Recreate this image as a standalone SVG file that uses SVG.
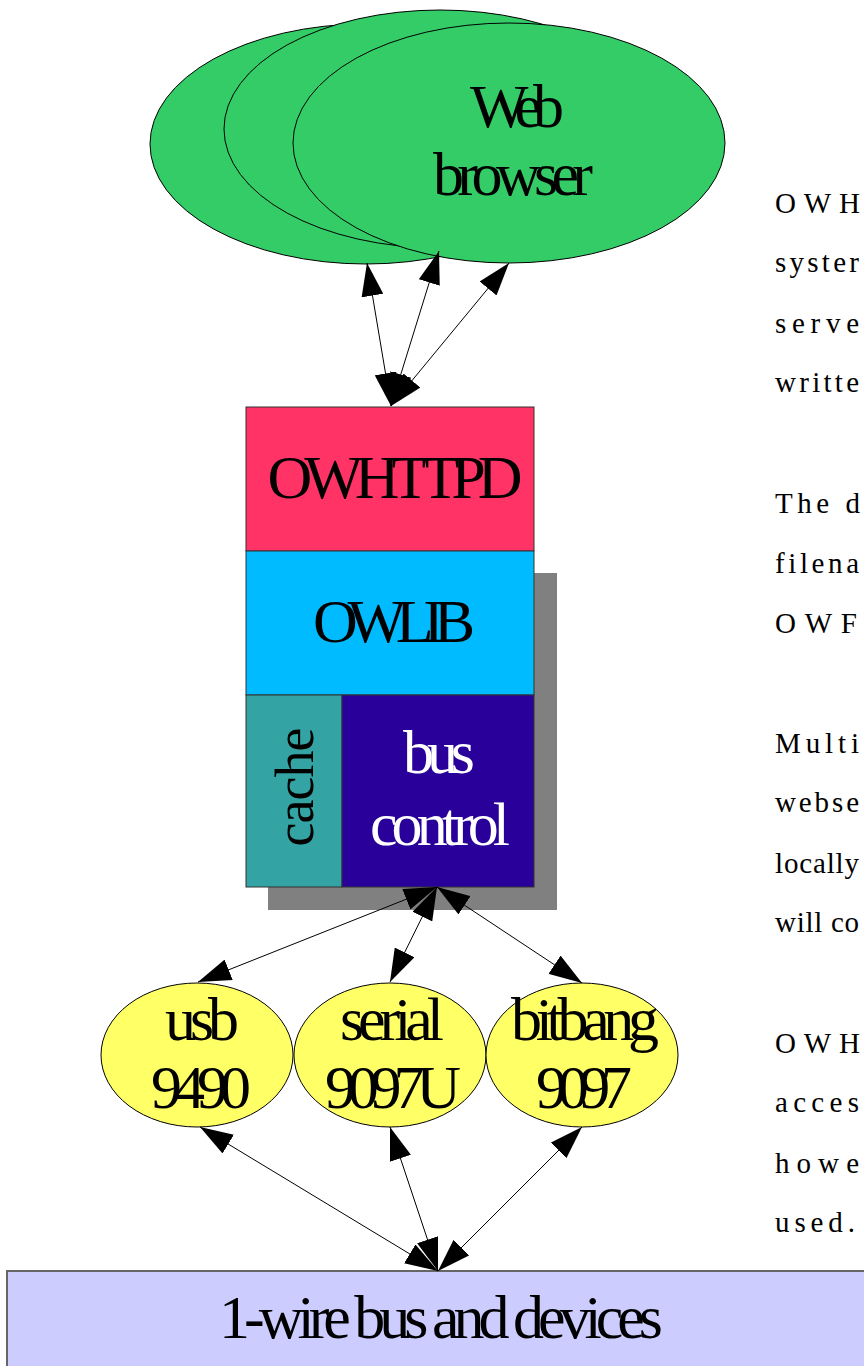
<svg xmlns="http://www.w3.org/2000/svg" width="864" height="1366" viewBox="0 0 864 1366">
<style>
.lbl{font-family:"Liberation Serif","Times New Roman",serif;font-size:62px;text-anchor:middle;fill:#000}
.note{font-family:"Liberation Serif","Times New Roman",serif;font-size:29px;fill:#000}
.edge{stroke:#000;stroke-width:1;fill:none;marker-start:url(#ah);marker-end:url(#ah)}
.box{stroke:#333;stroke-width:1}
.ell{stroke:#000;stroke-width:1}
</style>
<defs>
<marker id="ah" viewBox="0 0 33 22" refX="33" refY="11" markerWidth="33" markerHeight="22" markerUnits="userSpaceOnUse" orient="auto-start-reverse">
<path d="M0,0 L33,11 L0,22 z" fill="#000"/>
</marker>
</defs>
<rect width="864" height="1366" fill="#fff"/>

<g id="web-browser">
<ellipse class="ell" cx="366" cy="144" rx="216" ry="120" fill="#33cc66"/>
<ellipse class="ell" cx="440" cy="129" rx="216" ry="119" fill="#33cc66"/>
<ellipse class="ell" cx="509" cy="143" rx="216" ry="120" fill="#33cc66"/>
<text class="lbl" x="517" y="127" textLength="94" lengthAdjust="spacing">Web</text>
<text class="lbl" x="513" y="195" textLength="160" lengthAdjust="spacing">browser</text>
</g>

<g id="shadow">
<rect x="268" y="573" width="289" height="337" fill="#808080"/>
</g>

<g id="owhttpd">
<rect class="box" x="246" y="407" width="288" height="144" fill="#ff3366"/>
<text class="lbl" x="395" y="498" textLength="255" lengthAdjust="spacing">OWHTTPD</text>
</g>

<g id="owlib">
<rect class="box" x="246" y="551" width="288" height="144" fill="#00bbff"/>
<text class="lbl" x="394" y="642" textLength="162" lengthAdjust="spacing">OWLIB</text>
</g>

<g id="cache">
<rect class="box" x="246" y="695" width="96" height="192" fill="#33a3a3"/>
<text class="lbl" style="font-size:54px" transform="translate(313,787) rotate(-90)" x="0" y="0" textLength="119" lengthAdjust="spacing">cache</text>
</g>

<g id="bus-control">
<rect class="box" x="342" y="695" width="192" height="192" fill="#290099"/>
<text class="lbl" style="fill:#fff" x="439" y="773" textLength="72" lengthAdjust="spacing">bus</text>
<text class="lbl" style="fill:#fff" x="440" y="845" textLength="140" lengthAdjust="spacing">control</text>
</g>

<g id="usb">
<ellipse class="ell" cx="197" cy="1055" rx="96" ry="72" fill="#ffff66"/>
<text class="lbl" x="202" y="1040" textLength="74" lengthAdjust="spacing">usb</text>
<text class="lbl" x="201" y="1108" textLength="100" lengthAdjust="spacing">9490</text>
</g>

<g id="serial">
<ellipse class="ell" cx="390" cy="1055" rx="96" ry="72" fill="#ffff66"/>
<text class="lbl" x="392" y="1040" textLength="104" lengthAdjust="spacing">serial</text>
<text class="lbl" x="393" y="1108" textLength="136" lengthAdjust="spacing">9097U</text>
</g>

<g id="bitbang">
<ellipse class="ell" cx="582" cy="1055" rx="96" ry="72" fill="#ffff66"/>
<text class="lbl" x="585" y="1040" textLength="148" lengthAdjust="spacing">bitbang</text>
<text class="lbl" x="584" y="1108" textLength="96" lengthAdjust="spacing">9097</text>
</g>

<g id="bus-devices">
<rect x="7" y="1271" width="870" height="110" fill="#ccccff" stroke="#666" stroke-width="2"/>
<text class="lbl" x="441" y="1338" textLength="444" lengthAdjust="spacing">1-wire bus and devices</text>
</g>

<g id="connectors">
<path class="edge" d="M367,263 L391,406"/>
<path class="edge" d="M439,251 L391,406"/>
<path class="edge" d="M509,263 L391,406"/>
<path class="edge" d="M437,887 L198,982"/>
<path class="edge" d="M437,887 L390,982"/>
<path class="edge" d="M437,887 L582,983"/>
<path class="edge" d="M200,1127 L438,1271"/>
<path class="edge" d="M390,1127 L438,1271"/>
<path class="edge" d="M582,1127 L438,1271"/>
</g>

<g id="notes">
<text class="note" x="775" y="213" textLength="85" lengthAdjust="spacing">OWH</text>
<text class="note" x="775" y="272" textLength="84" lengthAdjust="spacing">syster</text>
<text class="note" x="775" y="333" textLength="84" lengthAdjust="spacing">serve</text>
<text class="note" x="775" y="392" textLength="84" lengthAdjust="spacing">writte</text>
<text class="note" x="775" y="513" textLength="85" lengthAdjust="spacing">The d</text>
<text class="note" x="775" y="573" textLength="84" lengthAdjust="spacing">filena</text>
<text class="note" x="775" y="633" textLength="82" lengthAdjust="spacing">OWF</text>
<text class="note" x="775" y="753" textLength="84" lengthAdjust="spacing">Multi</text>
<text class="note" x="775" y="812" textLength="84" lengthAdjust="spacing">webse</text>
<text class="note" x="775" y="873" textLength="84" lengthAdjust="spacing">locally</text>
<text class="note" x="775" y="932" textLength="84" lengthAdjust="spacing">will co</text>
<text class="note" x="775" y="1053" textLength="85" lengthAdjust="spacing">OWH</text>
<text class="note" x="775" y="1112" textLength="84" lengthAdjust="spacing">acces</text>
<text class="note" x="775" y="1173" textLength="84" lengthAdjust="spacing">howe</text>
<text class="note" x="775" y="1232" textLength="80" lengthAdjust="spacing">used.</text>
</g>
</svg>
